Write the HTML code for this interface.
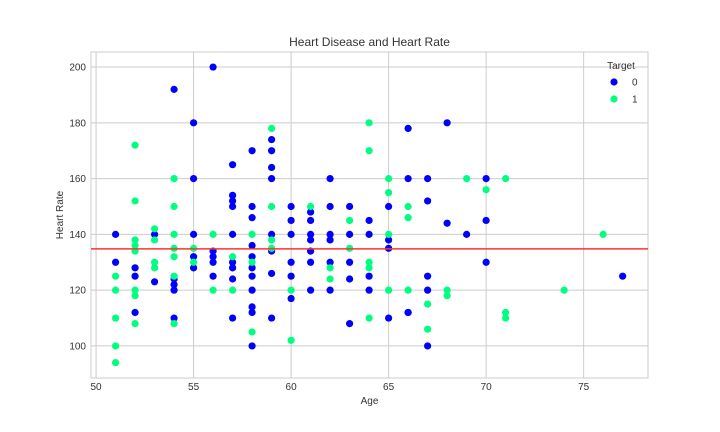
<!DOCTYPE html>
<html><head><meta charset="utf-8"><style>
body{margin:0;background:#fff;font-family:"Liberation Sans",sans-serif}
svg{display:block}
text{font-family:"Liberation Sans",sans-serif;fill:#333}
</style></head><body>
<svg id="chart" width="720" height="432"></svg>
<script>
const ages0=[51,51,52,52,52,53,53,54,54,54,54,54,55,55,55,55,55,56,56,56,56,56,57,57,57,57,57,57,57,57,57,58,58,58,58,58,58,58,58,58,58,58,59,59,59,59,59,59,59,59,60,60,60,60,60,60,61,61,61,61,61,61,61,62,62,62,62,62,62,63,63,63,63,63,64,64,64,64,65,65,65,65,66,66,66,66,67,67,67,67,67,68,68,69,70,70,70,77];
const hr0=[140,130,128,125,112,140,123,192,124,122,120,110,180,160,140,132,128,200,134,132,130,125,165,154,152,150,140,130,128,124,110,170,150,146,136,132,128,125,120,114,112,100,174,170,164,160,140,134,126,110,150,145,140,130,125,117,148,145,140,138,134,130,120,160,150,140,138,130,120,150,140,130,124,108,145,140,125,120,150,138,135,110,178,160,112,112,160,152,125,120,100,180,144,140,160,145,130,125];
const ages1=[51,51,51,51,51,52,52,52,52,52,52,52,52,53,53,53,53,54,54,54,54,54,54,54,55,55,56,56,57,57,58,58,58,59,59,59,59,60,60,61,62,62,63,63,64,64,64,64,64,65,65,65,65,66,66,66,67,67,68,68,69,70,71,71,71,74,76];
const hr1=[125,120,110,100,94,172,152,138,136,134,120,118,108,142,138,130,128,160,150,140,135,132,125,108,135,130,140,120,132,120,140,130,105,178,150,138,135,120,102,150,128,124,145,135,180,170,130,128,110,160,155,140,120,150,146,120,115,106,120,118,160,156,160,112,110,120,140];
const xTicks=[50,55,60,65,70,75];
const yTicks=[100,120,140,160,180,200];
const meanLine=134.8;
const L=91,T=52,W=557,H=326,xMin=49.74,xMax=78.3,yMin=88.5,yMax=205.4;
const sx=v=>L+(v-xMin)/(xMax-xMin)*W;
const sy=v=>T+H-(v-yMin)/(yMax-yMin)*H;
const svg=document.getElementById('chart');
const NS='http://www.w3.org/2000/svg';
function mk(tag,attrs,txt){const e=document.createElementNS(NS,tag);for(const k in attrs)e.setAttribute(k,attrs[k]);if(txt!==undefined)e.textContent=txt;svg.appendChild(e);return e;}
let r=mk('rect',{x:L,y:T,width:W,height:H,fill:'#fff',stroke:'#ccc','stroke-width':1});


xTicks.forEach(t=>{
  let g=mk('line',{x1:sx(t),x2:sx(t),y1:T,y2:T+H,stroke:'#ccc','stroke-width':1});
  
  
  let tx=mk('text',{x:sx(t),y:T+H+12,'font-size':10,'text-anchor':'middle'},t);
  
  
});
yTicks.forEach(t=>{
  let g=mk('line',{x1:L,x2:L+W,y1:sy(t),y2:sy(t),stroke:'#ccc','stroke-width':1});
  
  
  let tx=mk('text',{x:L-5,y:sy(t)+3.5,'font-size':10,'text-anchor':'end'},t);
  
  
});
ages0.forEach((a,i)=>{
  let c=mk('circle',{cx:sx(a),cy:sy(hr0[i]),r:3.6,fill:'#0000ff'});
  
  
});
ages1.forEach((a,i)=>{
  let c=mk('circle',{cx:sx(a),cy:sy(hr1[i]),r:3.6,fill:'#00ff80'});
  
  
});
let ml=mk('line',{x1:L,x2:L+W,y1:sy(meanLine),y2:sy(meanLine),stroke:'#ff3030','stroke-width':1.6});


let ti=mk('text',{x:L+W/2,y:46,'font-size':12,'text-anchor':'middle'},'Heart Disease and Heart Rate');


let xl=mk('text',{x:L+W/2,y:404,'font-size':10,'text-anchor':'middle'},'Age');


let yl=mk('text',{x:63,y:T+H/2,'font-size':10,'text-anchor':'middle',transform:'rotate(-90 63 '+(T+H/2)+')'},'Heart Rate');


let lt=mk('text',{x:621,y:69,'font-size':10,'text-anchor':'middle'},'Target');


[['0','#0000ff',82],['1','#00ff80',99]].forEach(e=>{
  let c=mk('circle',{cx:614,cy:e[2],r:3.6,fill:e[1]});
  
  
  let t=mk('text',{x:632,y:e[2]+3.5,'font-size':10},e[0]);
  
  
});
</script>
</body></html>
